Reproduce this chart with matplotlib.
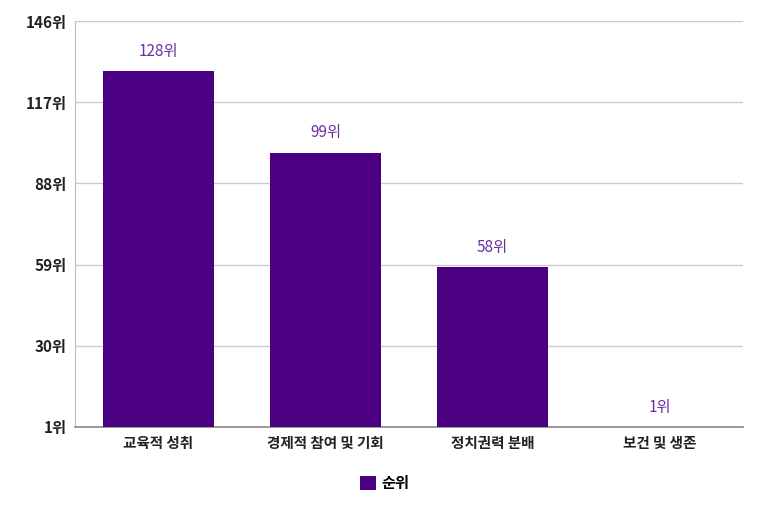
import matplotlib
matplotlib.use("Agg")
import matplotlib.pyplot as plt

plt.rcParams['font.family'] = ['Noto Sans CJK KR', 'DejaVu Sans']

categories = ["교육적 성취", "경제적 참여 및 기회", "정치권력 분배", "보건 및 생존"]
values = [128, 99, 58, 1]
yticks = [1, 30, 59, 88, 117, 146]
series_name = "순위"

bar_color = "#4B0082"
label_color = "#6B2FA0"

fig = plt.figure(figsize=(7.73, 5.13), dpi=100)
ax = fig.add_axes([75/773, 86/513, 668/773, 406/513])

x = list(range(len(categories)))
ax.bar(x, values, width=0.66, color=bar_color, zorder=3, label=series_name)
ax.set_ylim(1, 146)
ax.set_xlim(-0.5, len(categories) - 0.5)
ax.set_yticks(yticks)
ax.set_yticklabels([f"{t}위" for t in yticks], fontsize=11, fontweight='bold', color="#222222")
ax.set_xticks(x)
ax.set_xticklabels(categories, fontsize=10.5, fontweight='bold', color="#222222")
ax.tick_params(axis='both', length=0, pad=6)
ax.grid(axis='y', color="#cccccc", linewidth=1, zorder=0)
for s in ['top', 'right']:
    ax.spines[s].set_visible(False)
ax.spines['left'].set_color("#bbbbbb")
ax.spines['bottom'].set_color("#888888")
ax.spines['bottom'].set_linewidth(1.2)

for xi, v in zip(x, values):
    ax.annotate(f"{v}위", (xi, v), xytext=(0, 8), textcoords='offset points',
                ha='center', va='bottom', fontsize=11, color=label_color)

leg = ax.legend(loc='center', bbox_to_anchor=(385/773, 30/513), bbox_transform=fig.transFigure,
                frameon=False, handlelength=1.0, handleheight=1.0, handletextpad=0.4,
                prop={'size': 11, 'weight': 'bold'})

fig.savefig("out.png", dpi=100)
